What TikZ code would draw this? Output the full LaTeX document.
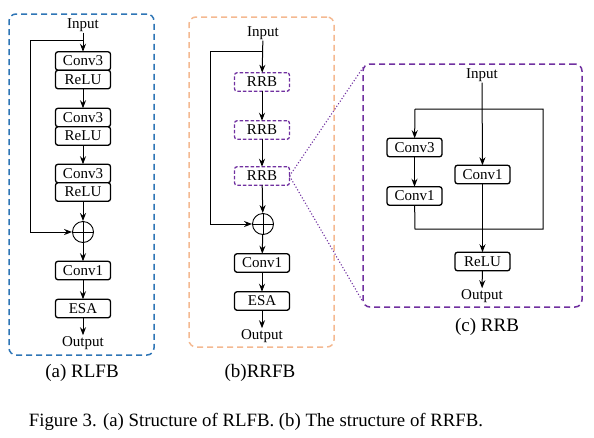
\documentclass[tikz,border=0pt]{standalone}
\usepackage{fontspec}
\setmainfont{Liberation Serif}
\usetikzlibrary{arrows.meta, positioning}
\definecolor{rlfbblue}{RGB}{46,117,182}
\definecolor{rrfbpeach}{RGB}{244,185,145}
\definecolor{rrbpurple}{RGB}{112,48,160}

\begin{document}
\begin{tikzpicture}[x=1pt, y=-1pt,
  box/.style={rectangle, draw, line width=1.3pt, rounded corners=2.5pt, fill=white, minimum width=55pt, minimum height=18.5pt, inner sep=0pt, outer sep=0pt, font=\fontsize{15}{15}\selectfont},
  rrbbox/.style={box, draw=rrbpurple, dash pattern=on 3.5pt off 2pt},
  lbl/.style={font=\fontsize{15}{15}\selectfont, inner sep=1pt},
  sub/.style={font=\fontsize{19}{19}\selectfont},
  adder/.style={circle, draw, line width=0.9pt, minimum size=21pt, inner sep=0pt},
  frame/.style={rectangle, draw, line width=1.5pt, rounded corners=7pt, dash pattern=on 6pt off 4pt, inner sep=0pt},
  arrow/.style={-{Stealth[length=8pt,width=6pt]}, line width=1pt},
  line/.style={line width=1pt}
]
\useasboundingbox (0,0) rectangle (594,437);

% Frames
\node[frame, draw=rlfbblue, minimum width=145pt, minimum height=341pt] (rlfb) at (81.5,184.5) {};
\node[frame, draw=rrfbpeach, minimum width=145pt, minimum height=330pt] (rrfb) at (261.5,182) {};
\node[frame, draw=rrbpurple, minimum width=219pt, minimum height=243pt] (rrb) at (472.5,185.5) {};

% (a) RLFB
\node[lbl] (inA) at (83,25) {Input};
\node[box] (c3a) at (83,61) {Conv3};
\node[box, below=0pt of c3a] (r1a) {ReLU};
\node[box] (c3b) at (83,117.5) {Conv3};
\node[box, below=0pt of c3b] (r1b) {ReLU};
\node[box] (c3c) at (83,173.5) {Conv3};
\node[box, below=0pt of c3c] (r1c) {ReLU};
\node[adder] (addA) at (83,232) {};
\node[box] (c1a) at (83,270.5) {Conv1};
\node[box] (esaA) at (83,308.5) {ESA};
\node[lbl] (outA) at (83,343) {Output};
\node[sub] (capA) at (82,373) {(a) RLFB};

\coordinate (splitA) at (83,40);
\coordinate (loopA) at (30,40);
\draw[arrow] (inA) -- (c3a);
\draw[arrow] (r1a) -- (c3b);
\draw[arrow] (r1b) -- (c3c);
\draw[arrow] (r1c) -- (addA);
\draw[arrow] (addA) -- (c1a);
\draw[arrow] (c1a) -- (esaA);
\draw[arrow] (esaA) -- (outA);
\draw[arrow] (splitA) -- (loopA) |- (addA);
\draw[line] (addA.north) -- (addA.south) (addA.west) -- (addA.east);

% (b) RRFB
\node[lbl] (inB) at (263,33) {Input};
\node[rrbbox] (rrb1) at (262,82) {RRB};
\node[rrbbox] (rrb2) at (262,130) {RRB};
\node[rrbbox] (rrb3) at (262,176) {RRB};
\node[adder] (addB) at (263,224) {};
\node[box] (c1b) at (262,263) {Conv1};
\node[box] (esaB) at (262,301) {ESA};
\node[lbl] (outB) at (262,336) {Output};
\node[sub] (capB) at (260,373) {(b)RRFB};

\coordinate (splitB) at (263,51);
\coordinate (loopB) at (210,51);
\draw[arrow] (inB) -- (rrb1);
\draw[arrow] (rrb1) -- (rrb2);
\draw[arrow] (rrb2) -- (rrb3);
\draw[arrow] (rrb3) -- (addB);
\draw[arrow] (addB) -- (c1b);
\draw[arrow] (c1b) -- (esaB);
\draw[arrow] (esaB) -- (outB);
\draw[arrow] (splitB) -- (loopB) |- (addB);
\draw[line] (addB.north) -- (addB.south) (addB.west) -- (addB.east);

% zoom lines
\draw[rrbpurple, dotted, line width=1.1pt] (rrb3.east) -- ([xshift=1pt, yshift=-4pt]rrb.north west);
\draw[rrbpurple, dotted, line width=1.1pt] (rrb3.east) -- ([yshift=7pt]rrb.south west);

% (c) RRB
\node[lbl] (inC) at (482,75) {Input};
\node[box] (c3l) at (414.5,147.5) {Conv3};
\node[box] (c1l) at (414.5,196) {Conv1};
\node[box] (c1m) at (482.5,174.5) {Conv1};
\node[box] (reluC) at (482.5,261.5) {ReLU};
\node[lbl] (outC) at (482,296) {Output};
\node[sub] (capC) at (487,327) {(c) RRB};

\coordinate (jl) at (415,109);
\coordinate (jr) at (543,109);
\coordinate (ml) at (415,229);
\coordinate (mm) at (482.5,229);
\coordinate (mr) at (543,229);
\draw[arrow] (inC) -- (c1m);
\draw[arrow] (jl) -- (c3l);
\draw[arrow] (c3l) -- (c1l);
\draw[line] (c1l) -- (ml) -- (mr) -- (jr) -- (jl);
\draw[line] (c1m) -- (mm);
\draw[arrow] (mm) -- (reluC);
\draw[arrow] (reluC) -- (outC);

% caption
\node[font=\fontsize{18.8}{19}\selectfont] (caption) at (256,422) {Figure 3. (a) Structure of RLFB. (b) The structure of RRFB.};
\end{tikzpicture}
\end{document}
